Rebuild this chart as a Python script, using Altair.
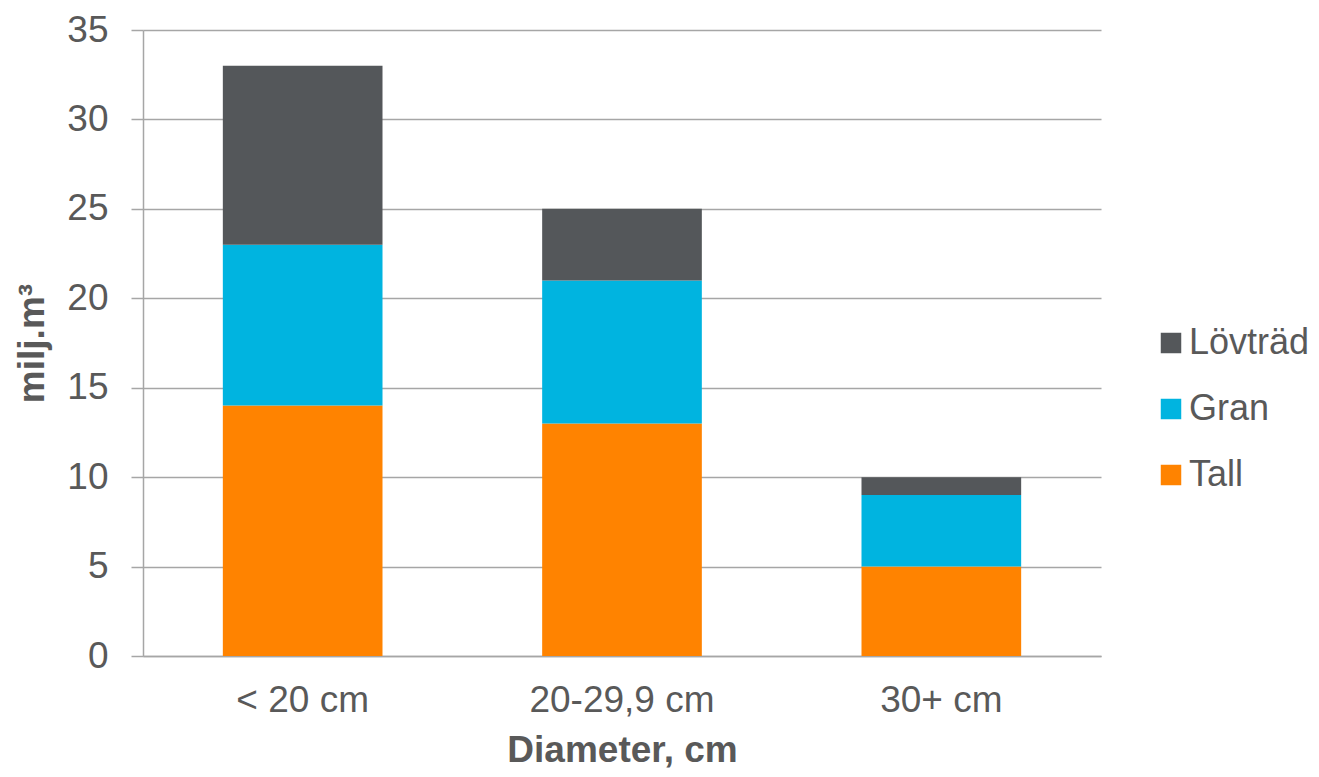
import altair as alt
import pandas as pd

categories = ["< 20 cm", "20-29,9 cm", "30+ cm"]
species = ["Lövträd", "Gran", "Tall"]
stack_rank = {"Tall": 0, "Gran": 1, "Lövträd": 2}
tall = [14, 13, 5]
gran = [9, 8, 4]
lovtrad = [10, 4, 1]
colors = ["#54575a", "#00b4e0", "#ff8300"]

rows = []
for i, c in enumerate(categories):
    rows.append({"Diameter": c, "Art": "Tall", "Värde": tall[i]})
    rows.append({"Diameter": c, "Art": "Gran", "Värde": gran[i]})
    rows.append({"Diameter": c, "Art": "Lövträd", "Värde": lovtrad[i]})
df = pd.DataFrame(rows)
df["rank"] = df["Art"].map(stack_rank)

FONT = "Liberation Sans"
TXT = "#595959"
GRID = "#a6a6a6"

chart = alt.Chart(df).mark_bar().encode(
    x=alt.X("Diameter:N", sort=categories,
            scale=alt.Scale(paddingInner=0.5, paddingOuter=0.25),
            axis=alt.Axis(title="Diameter, cm", labelAngle=0, ticks=False,
                          labelPadding=26, labelFontSize=37, labelFont=FONT,
                          labelColor=TXT, labelLimit=400,
                          titleFont=FONT, titleFontSize=37,
                          titleFontWeight="bold", titleColor=TXT,
                          titleBaseline="alphabetic", titleY=105,
                          domainColor=GRID, domainWidth=1.5)),
    y=alt.Y("Värde:Q", stack="zero",
            scale=alt.Scale(domain=[0, 35], nice=False),
            axis=alt.Axis(title="milj.m³", values=[0, 5, 10, 15, 20, 25, 30, 35],
                          tickSize=12, tickColor=GRID, tickWidth=1.5,
                          labelPadding=23, labelFontSize=37, labelFont=FONT,
                          labelColor=TXT, titleFont=FONT, titleFontSize=37,
                          titleFontWeight="bold", titleColor=TXT,
                          titleAngle=270, titleBaseline="alphabetic",
                          titleAlign="center", titleX=-100, titleY=313,
                          gridColor=GRID, gridWidth=1.5,
                          domainColor=GRID, domainWidth=1.5)),
    color=alt.Color("Art:N",
                    scale=alt.Scale(domain=species, range=colors),
                    legend=alt.Legend(title=None, orient="none",
                                      legendX=1010, legendY=295,
                                      symbolType="square", symbolSize=420,
                                      symbolStrokeWidth=0, padding=0,
                                      labelOffset=0, rowPadding=30,
                                      labelFont=FONT, labelFontSize=36,
                                      labelColor=TXT, labelLimit=300)),
    order=alt.Order("rank:Q", sort="ascending"),
).properties(
    width=958, height=626,
    autosize=alt.AutoSizeParams(type="none"),
    padding={"left": 135, "top": 22, "right": 210, "bottom": 113},
).configure_view(stroke=None)

chart.save("out.html", embed_options={"renderer": "svg", "actions": False})
